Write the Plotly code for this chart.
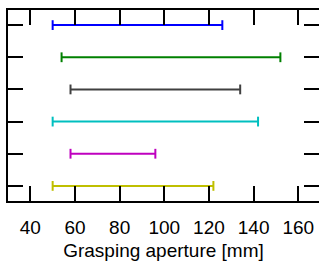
import plotly.graph_objects as go

rows = [1, 2, 3, 4, 5, 6]
starts = [50, 54, 58, 50, 58, 50]
ends = [126, 152, 134, 142, 96, 122]
colors = ["#0000ff", "#008000", "#404040", "#00bfbf", "#bf00bf", "#bfbf00"]
xticks = [40, 60, 80, 100, 120, 140, 160]

fig = go.Figure()
for r, s, e, c in zip(rows, starts, ends, colors):
    fig.add_trace(go.Scatter(
        x=[s, e], y=[r, r], mode="lines+markers",
        line=dict(color=c, width=2),
        marker=dict(symbol="line-ns", size=7, line=dict(color=c, width=2)),
        showlegend=False, hoverinfo="skip"))

fig.update_layout(
    width=319, height=270,
    margin=dict(l=8, r=0, t=10, b=69),
    plot_bgcolor="white", paper_bgcolor="white",
    font=dict(family="Liberation Sans, Arial, sans-serif", color="black", size=19),
)
fig.update_xaxes(
    range=[30, 169.3], tickvals=xticks, ticks="inside", ticklen=15, tickwidth=1.5,
    tickcolor="black", showline=True, linewidth=2, linecolor="black", mirror="ticks",
    showgrid=False, zeroline=False, tickfont=dict(size=19), ticklabelstandoff=8,
    automargin=False,
    title=dict(text="Grasping aperture [mm]", font=dict(size=19), standoff=7),
)
fig.update_yaxes(
    range=[6.47, 0.53], tickvals=rows, ticks="inside", ticklen=15, tickwidth=1.5,
    tickcolor="black", showline=True, linewidth=2, linecolor="black", mirror="ticks",
    showgrid=False, zeroline=False, showticklabels=False, automargin=False,
)
fig.write_html(
    "out.html",
    config={"displayModeBar": False},
    post_script="document.body.style.margin='0';document.body.style.overflow='hidden';",
)
